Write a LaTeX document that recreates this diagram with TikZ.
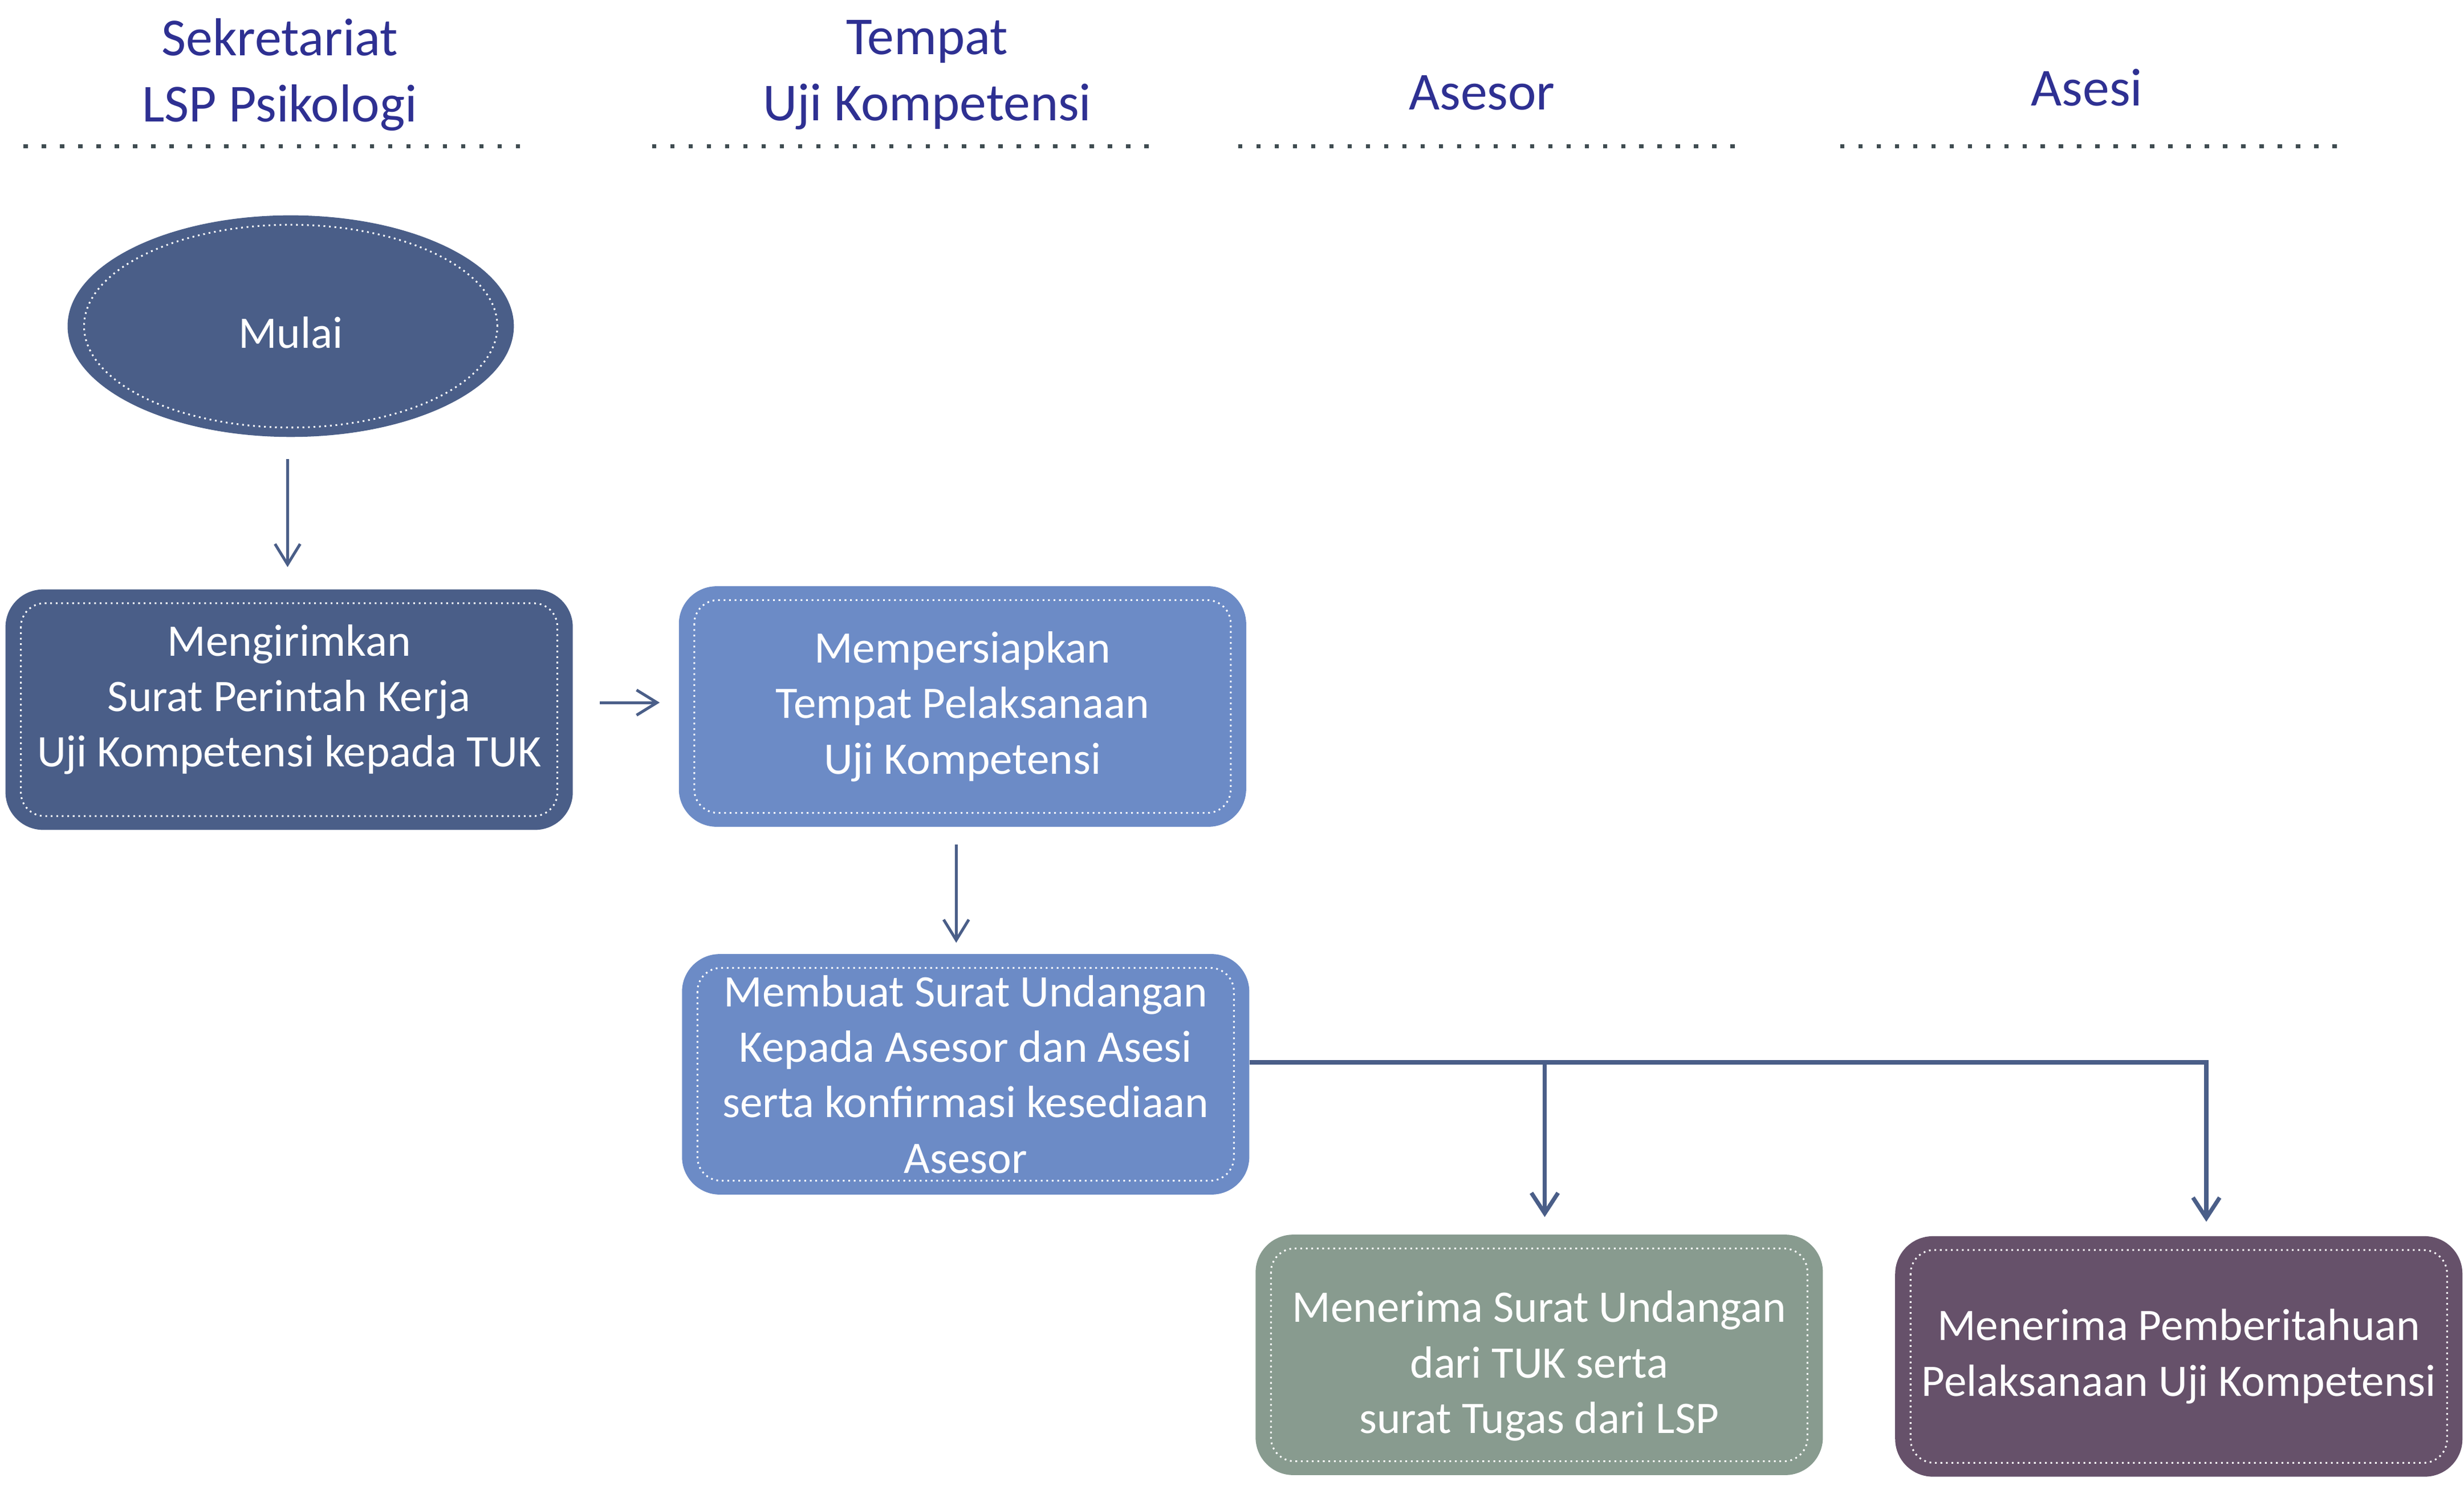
\documentclass[tikz,border=0pt]{standalone}
\usepackage{fontspec}
\setmainfont{Carlito}
\usetikzlibrary{shapes.geometric,arrows.meta}
\definecolor{tua}{HTML}{4A5E88}
\definecolor{muda}{HTML}{6C8BC6}
\definecolor{hijau}{HTML}{889B8F}
\definecolor{ungu}{HTML}{66516A}
\definecolor{judul}{HTML}{2E3092}
\definecolor{garis}{HTML}{4A5E88}
\definecolor{titik}{HTML}{3E4B50}
\tikzset{
    header/.style={text=judul, align=center, inner sep=0pt, font=\fontsize{34}{42}\selectfont},
    kotak/.style={rectangle, rounded corners=24pt, minimum width=361pt, minimum height=153pt,
        inner sep=0pt, text=white, align=center, font=\fontsize{28.7}{35.3}\selectfont},
    mulaibox/.style={ellipse, fill=tua, minimum width=284pt, minimum height=141pt,
        inner sep=0pt, text=white, font=\fontsize{28.7}{35.3}\selectfont},
    dalam/.style={draw=white, line width=1.1pt, dash pattern=on 1.1pt off 2.4pt, rounded corners=15pt},
    pemisah/.style={draw=titik, line width=2.7pt, dash pattern=on 2.7pt off 8.9pt},
    panah/.style={draw=garis, line width=1.8pt, -{Straight Barb[length=13pt,width=16pt,line width=1.8pt]}},
    panahtebal/.style={draw=garis, line width=2.8pt, -{Straight Barb[length=13pt,width=17pt,line width=2.6pt]}},
}
\begin{document}
\begin{tikzpicture}[x=1pt,y=-1pt]
    \useasboundingbox (0,0) rectangle (1568,945.4);
    \node[header] (hsek) at (178,47.5) {Sekretariat\\LSP Psikologi};
    \node[header] (htuk) at (590,47.8) {Tempat\\Uji Kompetensi};
    \node[header] (hasesor) at (943,59.2) {Asesor};
    \node[header] (hasesi) at (1328,55.7) {Asesi};
    \foreach \x/\l in {15/324,415/323,788/324,1171/318}
        \draw[pemisah] (\x,93) -- ++(\l,0);
    \node[mulaibox, text height=28pt, text depth=0.4pt] (mulai) at (185,207.5) {Mulai};
    \draw[dalam] (mulai.center) ellipse [x radius=131.5pt, y radius=64.5pt];
    \node[kotak, fill=tua, text height=90pt, text depth=17.2pt] (kirim) at (184,451.5) {Mengirimkan\\Surat Perintah Kerja\\Uji Kompetensi kepada TUK};
    \node[kotak, fill=muda] (siap) at (612.5,449.5) {Mempersiapkan\\Tempat Pelaksanaan\\Uji Kompetensi};
    \node[kotak, fill=muda] (undang) at (614.5,683.5) {Membuat Surat Undangan\\Kepada Asesor dan Asesi\\serta konfirmasi kesediaan\\Asesor};
    \node[kotak, fill=hijau, text height=104pt, text depth=4.2pt] (asesor) at (979.5,862) {Menerima Surat Undangan\\dari TUK serta\\surat Tugas dari LSP};
    \node[kotak, fill=ungu] (asesi) at (1386.5,863) {Menerima Pemberitahuan\\Pelaksanaan Uji Kompetensi};
    \foreach \n in {kirim,siap,undang,asesor,asesi}
        \draw[dalam] ([shift={(10pt,-9pt)}]\n.north west) rectangle ([shift={(-10pt,9pt)}]\n.south east);
    \coordinate (ta) at (983,676);
    \coordinate (tb) at (1404,676);
    \draw[panah, shorten <=14pt, shorten >=14pt] ([xshift=-2pt]mulai.south) -- ([xshift=-2pt]mulai.south |- kirim.north);
    \draw[panah, shorten <=17pt, shorten >=12pt] ([yshift=4.5pt]kirim.east) -- ([yshift=4.5pt]kirim.east -| siap.west);
    \draw[panah, shorten <=11pt, shorten >=7pt] ([xshift=-4pt]siap.south) -- ([xshift=-4pt]siap.south |- undang.north);
    \draw[panahtebal, shorten >=9pt] (undang.east |- ta) -- (tb) -- (tb |- asesi.north);
    \draw[panahtebal, shorten >=11pt] (ta) -- (ta |- asesor.north);
\end{tikzpicture}
\end{document}
